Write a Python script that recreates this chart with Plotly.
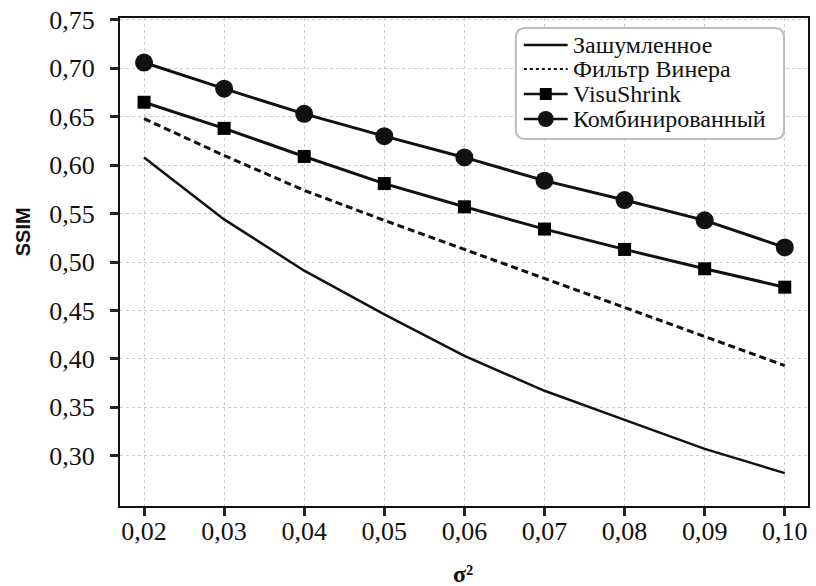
import plotly.graph_objects as go

x_vals = [0.02, 0.03, 0.04, 0.05, 0.06, 0.07, 0.08, 0.09, 0.10]
x_labels = ["0,02", "0,03", "0,04", "0,05", "0,06", "0,07", "0,08", "0,09", "0,10"]
y_ticks = [0.30, 0.35, 0.40, 0.45, 0.50, 0.55, 0.60, 0.65, 0.70, 0.75]
y_labels = ["0,30", "0,35", "0,40", "0,45", "0,50", "0,55", "0,60", "0,65", "0,70", "0,75"]

noisy = [0.608, 0.544, 0.491, 0.446, 0.403, 0.367, 0.337, 0.307, 0.282]
wiener = [0.648, 0.610, 0.574, 0.543, 0.513, 0.483, 0.453, 0.423, 0.393]
visu = [0.665, 0.638, 0.609, 0.581, 0.557, 0.534, 0.513, 0.493, 0.474]
combined = [0.706, 0.679, 0.653, 0.630, 0.608, 0.584, 0.564, 0.543, 0.515]

names = ["Зашумленное", "Фильтр Винера", "VisuShrink", "Комбинированный"]

SERIF = "Liberation Serif"
INK = "#111111"

fig = go.Figure()
fig.add_trace(go.Scatter(x=x_vals, y=noisy, name=names[0], mode="lines",
                         line=dict(color=INK, width=2.5)))
fig.add_trace(go.Scatter(x=x_vals, y=wiener, name=names[1], mode="lines",
                         line=dict(color=INK, width=3, dash="7px,4px")))
fig.add_trace(go.Scatter(x=x_vals, y=visu, name=names[2], mode="lines+markers",
                         line=dict(color=INK, width=3),
                         marker=dict(symbol="square", size=13, color="#000000")))
fig.add_trace(go.Scatter(x=x_vals, y=combined, name=names[3], mode="lines+markers",
                         line=dict(color=INK, width=3),
                         marker=dict(symbol="circle", size=18, color=INK)))

W, H = 816, 586
ml, mr, mt, mb = 120, 6, 18, 80
pw, ph = W - ml - mr, H - mt - mb


def px(x):
    return (x - ml) / pw


def py(y):
    return 1 - (y - mt) / ph


# rounded legend box
x0, y0, x1, y1, r = 517, 28, 786, 139, 10
path = (f"M {px(x0+r)},{py(y0)} L {px(x1-r)},{py(y0)} Q {px(x1)},{py(y0)} {px(x1)},{py(y0+r)} "
        f"L {px(x1)},{py(y1-r)} Q {px(x1)},{py(y1)} {px(x1-r)},{py(y1)} "
        f"L {px(x0+r)},{py(y1)} Q {px(x0)},{py(y1)} {px(x0)},{py(y1-r)} "
        f"L {px(x0)},{py(y0+r)} Q {px(x0)},{py(y0)} {px(x0+r)},{py(y0)} Z")
fig.add_shape(type="path", path=path, xref="paper", yref="paper",
              line=dict(color="#bdbdbd", width=2), fillcolor="white", layer="above")

# legend entries
rows = [45, 69, 94, 119]
lx0, lx1, tx = 525, 569, 572
dashes = ["solid", "dot", "solid", "solid"]
for i, (nm, ry) in enumerate(zip(names, rows)):
    fig.add_shape(type="line", xref="paper", yref="paper",
                  x0=px(lx0), x1=px(lx1), y0=py(ry), y1=py(ry),
                  line=dict(color=INK, width=2.5 if i != 1 else 2, dash=dashes[i]),
                  layer="above")
    fig.add_annotation(x=px(tx), y=py(ry), xref="paper", yref="paper",
                       text=nm, showarrow=False, xanchor="left", yanchor="middle",
                       font=dict(family=SERIF, size=24, color=INK))
cx = (lx0 + lx1) / 2
s = 6
fig.add_shape(type="rect", xref="paper", yref="paper",
              x0=px(cx - s), x1=px(cx + s), y0=py(rows[2] - s), y1=py(rows[2] + s),
              fillcolor="#000000", line=dict(width=0), layer="above")
c = 8
fig.add_shape(type="circle", xref="paper", yref="paper",
              x0=px(cx - c), x1=px(cx + c), y0=py(rows[3] - c), y1=py(rows[3] + c),
              fillcolor=INK, line=dict(width=0), layer="above")

# axis titles
fig.add_annotation(x=px(23), y=py(232), xref="paper", yref="paper", text="<b>SSIM</b>",
                   showarrow=False, textangle=-90, xanchor="center", yanchor="middle",
                   font=dict(family="Liberation Sans", size=20, color=INK))
fig.add_annotation(x=px(464), y=py(574), xref="paper", yref="paper",
                   text="<b>σ²</b>",
                   showarrow=False, xanchor="center", yanchor="middle",
                   font=dict(family=SERIF, size=24, color=INK))

axis_common = dict(showline=True, linecolor=INK, linewidth=2, mirror=True,
                   ticks="outside", ticklen=8, tickwidth=3, tickcolor="#222222",
                   showgrid=True, gridcolor="#cccccc", gridwidth=1, griddash="dot",
                   zeroline=False,
                   tickfont=dict(family=SERIF, size=26, color=INK))

fig.update_layout(
    width=W, height=H,
    margin=dict(l=ml, r=mr, t=mt, b=mb),
    paper_bgcolor="white", plot_bgcolor="white",
    font=dict(family=SERIF, size=24, color=INK),
    showlegend=False,
    xaxis=dict(range=[0.017, 0.1029], tickmode="array", tickvals=x_vals, ticktext=x_labels,
               ticklabelstandoff=-7, **axis_common),
    yaxis=dict(range=[0.248, 0.752], tickmode="array", tickvals=y_ticks, ticktext=y_labels,
               ticklabelstandoff=10, **axis_common),
)

fig.write_html("out.html")
